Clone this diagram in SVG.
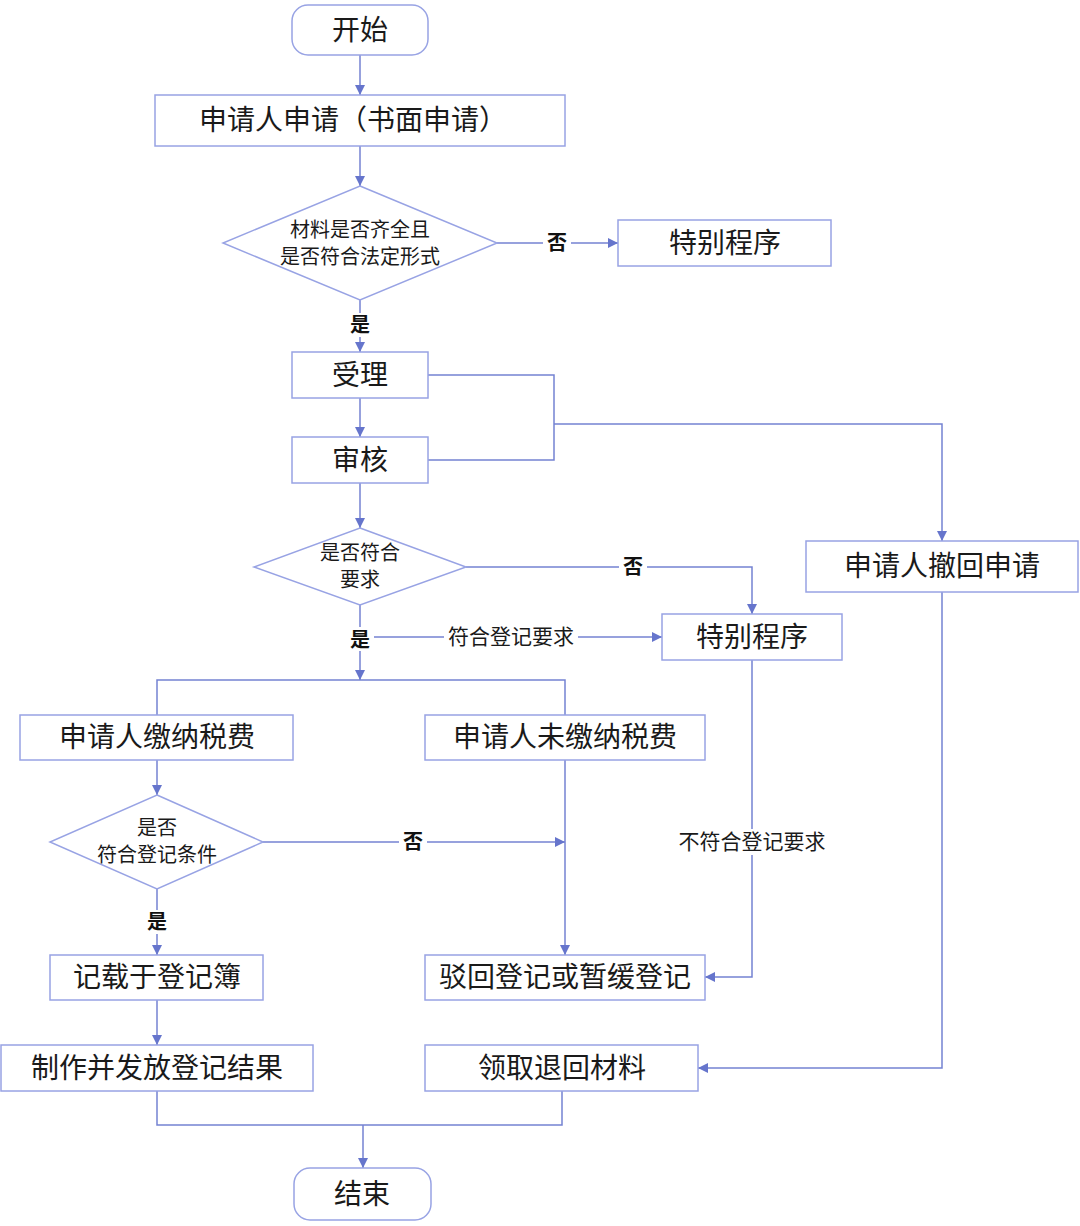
<svg xmlns="http://www.w3.org/2000/svg" width="1080" height="1226" viewBox="0 0 1080 1226">
<defs>
<marker id="ah" viewBox="0 0 10 10" refX="10" refY="5" markerWidth="10" markerHeight="10" markerUnits="userSpaceOnUse" orient="auto">
<path d="M0,0 L10,5 L0,10 z" fill="#6675cc"/>
</marker>
<style>
.box{fill:#fff;stroke:#98a3e4;stroke-width:1.5}
.ln{fill:none;stroke:#7482d2;stroke-width:1.5}
.t{font-family:"Noto Sans CJK SC","Microsoft YaHei",sans-serif;font-size:28px;fill:#1a1a1a;text-anchor:middle;dominant-baseline:central}
.s{font-family:"Noto Sans CJK SC","Microsoft YaHei",sans-serif;font-size:21px;fill:#1a1a1a;text-anchor:middle;dominant-baseline:central}
.d{font-family:"Noto Sans CJK SC","Microsoft YaHei",sans-serif;font-size:20px;fill:#1a1a1a;text-anchor:middle;dominant-baseline:central}
.b{font-family:"Noto Sans CJK SC","Microsoft YaHei",sans-serif;font-size:20px;font-weight:bold;fill:#111;text-anchor:middle;dominant-baseline:central}
</style>
</defs>
<rect width="1080" height="1226" fill="#fff"/>
<g id="connectors">
<path class="ln" d="M360,55 V95" marker-end="url(#ah)"/>
<path class="ln" d="M360,146 V186" marker-end="url(#ah)"/>
<path class="ln" d="M497,243 H618" marker-end="url(#ah)"/>
<path class="ln" d="M360,300 V352" marker-end="url(#ah)"/>
<path class="ln" d="M360,398 V437" marker-end="url(#ah)"/>
<path class="ln" d="M428,375 H554 V460 H428"/>
<path class="ln" d="M554,424 H942 V541" marker-end="url(#ah)"/>
<path class="ln" d="M360,483 V528" marker-end="url(#ah)"/>
<path class="ln" d="M466,567 H752 V614" marker-end="url(#ah)"/>
<path class="ln" d="M360,605 V680" marker-end="url(#ah)"/>
<path class="ln" d="M360,637 H662" marker-end="url(#ah)"/>
<path class="ln" d="M157,715 V680 H565 V715"/>
<path class="ln" d="M157,760 V795" marker-end="url(#ah)"/>
<path class="ln" d="M263,842 H565" marker-end="url(#ah)"/>
<path class="ln" d="M157,889 V955" marker-end="url(#ah)"/>
<path class="ln" d="M157,1000 V1045" marker-end="url(#ah)"/>
<path class="ln" d="M565,760 V955" marker-end="url(#ah)"/>
<path class="ln" d="M752,660 V977 H705" marker-end="url(#ah)"/>
<path class="ln" d="M942,592 V1068 H698" marker-end="url(#ah)"/>
<path class="ln" d="M157,1091 V1125 H562 V1091"/>
<path class="ln" d="M363,1125 V1168" marker-end="url(#ah)"/>
<g id="labels">
<rect x="543" y="231" width="28" height="24" fill="#fff"/>
<text class="b" x="557" y="241">否</text>
<rect x="346" y="313" width="28" height="24" fill="#fff"/>
<text class="b" x="360" y="323">是</text>
<rect x="619" y="555" width="28" height="24" fill="#fff"/>
<text class="b" x="633" y="565">否</text>
<rect x="346" y="627" width="28" height="24" fill="#fff"/>
<text class="b" x="360" y="638">是</text>
<rect x="444" y="624" width="134" height="26" fill="#fff"/>
<text class="s" x="511" y="635">符合登记要求</text>
<rect x="399" y="830" width="28" height="24" fill="#fff"/>
<text class="b" x="413" y="840">否</text>
<rect x="143" y="910" width="28" height="24" fill="#fff"/>
<text class="b" x="157" y="920">是</text>
<rect x="675" y="829" width="155" height="26" fill="#fff"/>
<text class="s" x="752" y="840">不符合登记要求</text>
</g>
</g>
<g id="start"><rect class="box" x="292" y="5" width="136" height="50" rx="16"/><text class="t" x="360" y="28">开始</text></g>
<g id="apply"><rect class="box" x="155" y="95" width="410" height="51"/><text class="t" x="353" y="118">申请人申请（书面申请）</text></g>
<g id="check1"><polygon class="box" points="360,186 497,243 360,300 223,243"/><text class="d" x="360" y="228">材料是否齐全且</text><text class="d" x="360" y="255">是否符合法定形式</text></g>
<g id="special1"><rect class="box" x="618" y="220" width="213" height="46"/><text class="t" x="725" y="241">特别程序</text></g>
<g id="accept"><rect class="box" x="292" y="352" width="136" height="46"/><text class="t" x="360" y="373">受理</text></g>
<g id="review"><rect class="box" x="292" y="437" width="136" height="46"/><text class="t" x="360" y="458">审核</text></g>
<g id="withdraw"><rect class="box" x="806" y="541" width="272" height="51"/><text class="t" x="942" y="564">申请人撤回申请</text></g>
<g id="check2"><polygon class="box" points="360,528 466,567 360,605 254,567"/><text class="d" x="360" y="551">是否符合</text><text class="d" x="360" y="578">要求</text></g>
<g id="special2"><rect class="box" x="662" y="614" width="180" height="46"/><text class="t" x="752" y="635">特别程序</text></g>
<g id="paid"><rect class="box" x="20" y="715" width="273" height="45"/><text class="t" x="157" y="735">申请人缴纳税费</text></g>
<g id="unpaid"><rect class="box" x="425" y="715" width="280" height="45"/><text class="t" x="565" y="735">申请人未缴纳税费</text></g>
<g id="check3"><polygon class="box" points="157,795 263,842 157,889 50,842"/><text class="d" x="157" y="826">是否</text><text class="d" x="157" y="853">符合登记条件</text></g>
<g id="record"><rect class="box" x="50" y="955" width="213" height="45"/><text class="t" x="157" y="975">记载于登记簿</text></g>
<g id="reject"><rect class="box" x="425" y="955" width="280" height="45"/><text class="t" x="565" y="975">驳回登记或暂缓登记</text></g>
<g id="issue"><rect class="box" x="1" y="1045" width="312" height="46"/><text class="t" x="157" y="1066">制作并发放登记结果</text></g>
<g id="return"><rect class="box" x="425" y="1045" width="273" height="46"/><text class="t" x="562" y="1066">领取退回材料</text></g>
<g id="end"><rect class="box" x="294" y="1168" width="137" height="52" rx="16"/><text class="t" x="362" y="1192">结束</text></g>
</svg>
